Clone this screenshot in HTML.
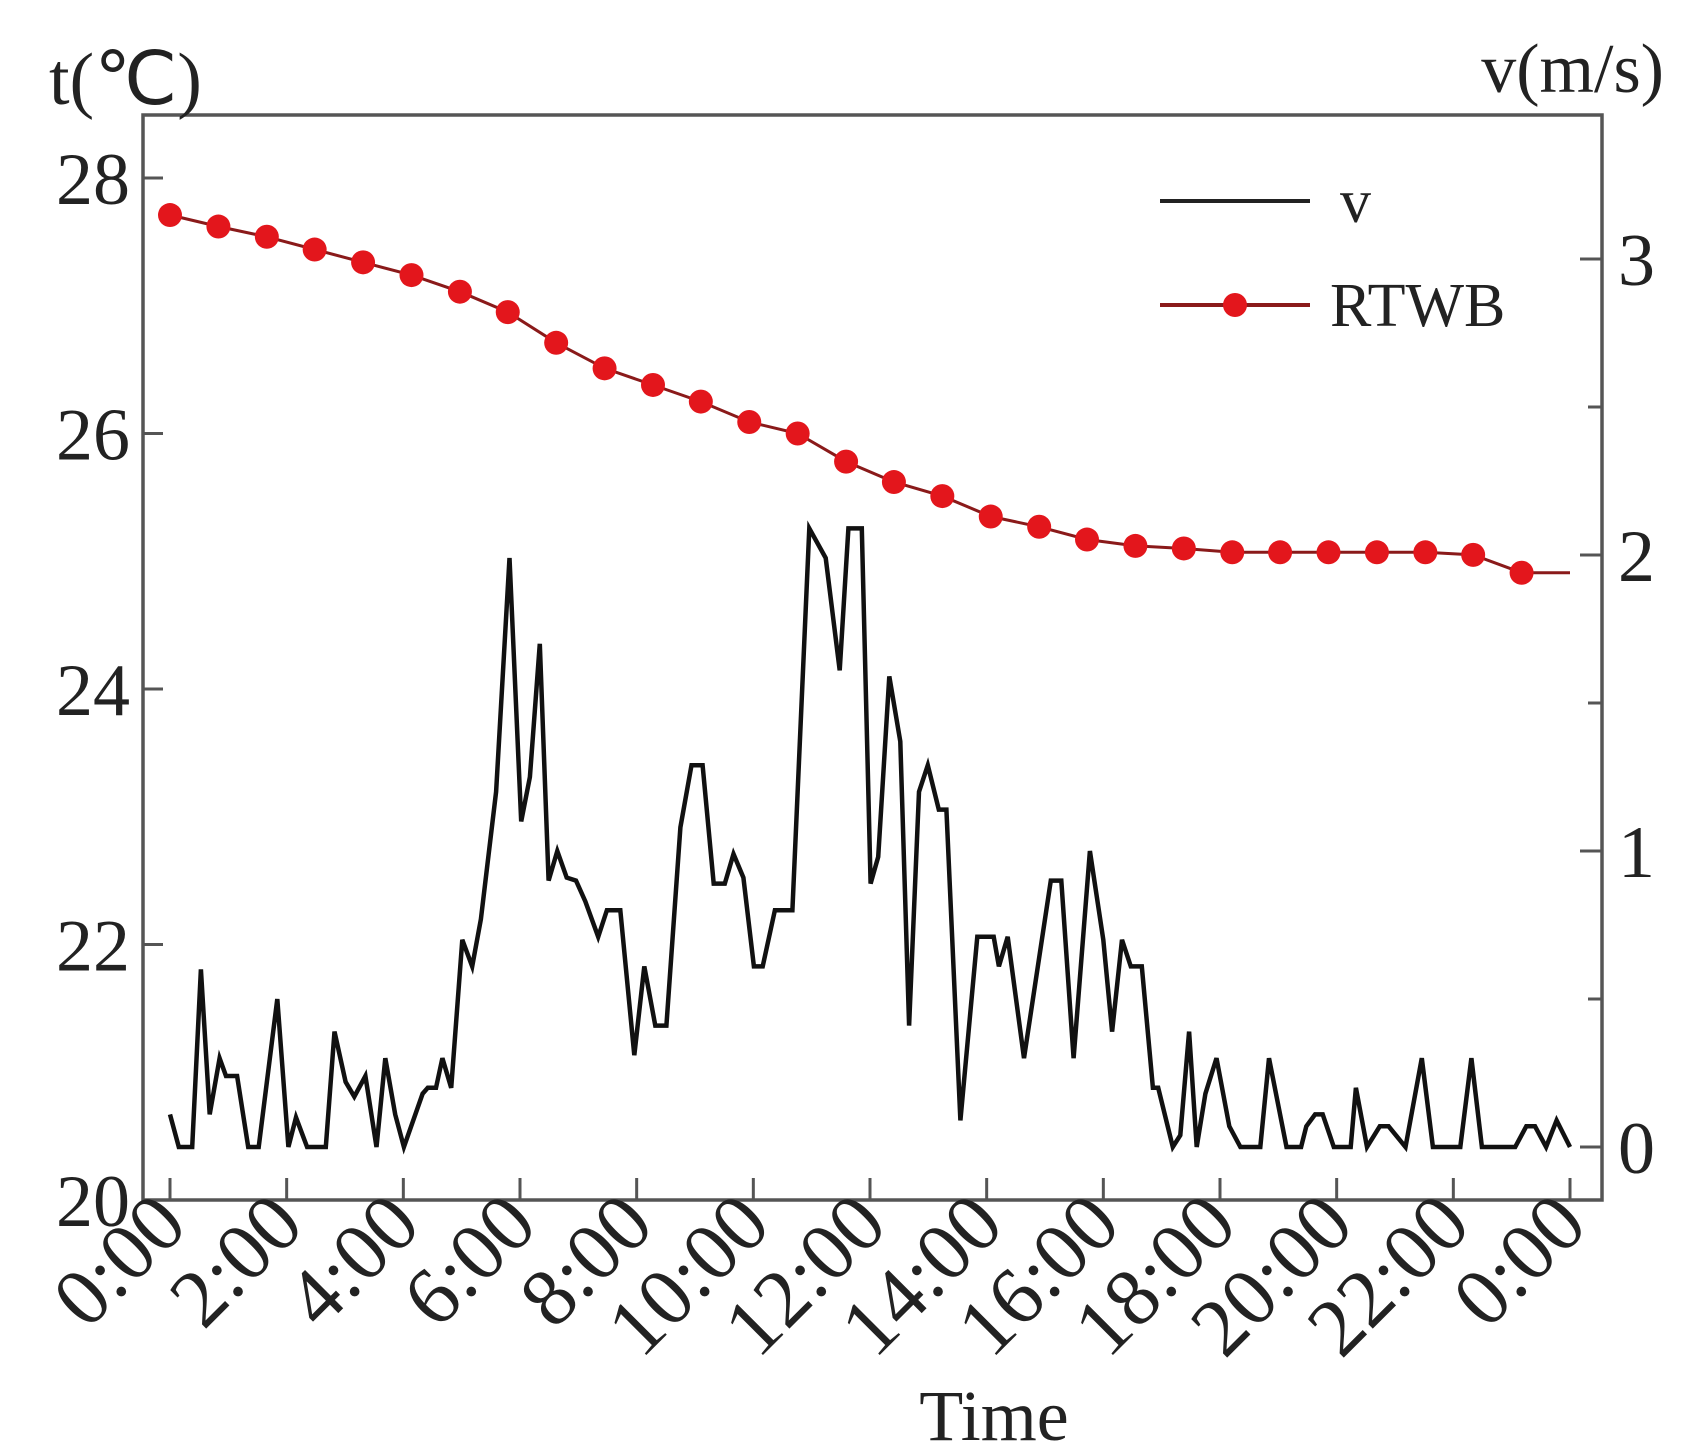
<!DOCTYPE html>
<html><head><meta charset="utf-8"><style>
html,body{margin:0;padding:0;background:#fff;}
svg{display:block;font-family:"Liberation Serif",serif;}
</style></head><body>
<svg id="chart" width="1704" height="1456" viewBox="0 0 1704 1456" xmlns="http://www.w3.org/2000/svg">
<rect x="0" y="0" width="1704" height="1456" fill="#fff"/>
<g id="grid"></g>
<g id="series"></g>
<rect x="143" y="115" width="1459" height="1085" fill="none" stroke="#555" stroke-width="3.5"/>
<text x="49" y="104" font-size="74" fill="#222">t(℃)</text>
<text x="1664" y="92" font-size="70" fill="#222" text-anchor="end">v(m/s)</text>
<text x="994" y="1440" font-size="72" fill="#222" text-anchor="middle">Time</text>
<g>
<line x1="1160" y1="201" x2="1310" y2="201" stroke="#222" stroke-width="4"/>
<text x="1340" y="222" font-size="62" fill="#222">v</text>
<line x1="1160" y1="305" x2="1310" y2="305" stroke="#8a1a1a" stroke-width="4"/>
<circle cx="1235" cy="305" r="12" fill="#e3161c"/>
<text x="1330" y="326" font-size="62" fill="#222">RTWB</text>
</g>
</svg>
<script>
const xTickHours = [0,2,4,6,8,10,12,14,16,18,20,22,24];
const xTickLabels = ["0:00","2:00","4:00","6:00","8:00","10:00","12:00","14:00","16:00","18:00","20:00","22:00","0:00"];
const leftTicks = [20,22,24,26,28];
const rightTicks = [0,1,2,3];
const rightMinor = [0.5,1.5,2.5];
const rtwbHours = [0,0.83,1.66,2.48,3.31,4.14,4.97,5.79,6.62,7.45,8.28,9.10,9.93,10.76,11.59,12.41,13.24,14.07,14.90,15.72,16.55,17.38,18.21,19.03,19.86,20.69,21.52,22.34,23.17,24];
const rtwbTemp = [27.71,27.62,27.54,27.44,27.34,27.24,27.11,26.95,26.71,26.51,26.38,26.25,26.09,26.0,25.78,25.62,25.51,25.35,25.27,25.17,25.12,25.10,25.07,25.07,25.07,25.07,25.07,25.05,24.91,24.91];
const vHours = [0,0.15,0.38,0.53,0.68,0.85,0.96,1.15,1.34,1.52,1.84,2.03,2.16,2.35,2.67,2.82,3.01,3.16,3.35,3.54,3.69,3.86,4.01,4.33,4.42,4.56,4.67,4.82,5.01,5.18,5.33,5.59,5.82,6.02,6.17,6.34,6.49,6.64,6.80,6.96,7.12,7.34,7.49,7.72,7.96,8.13,8.32,8.51,8.75,8.94,9.13,9.32,9.51,9.66,9.83,10.01,10.16,10.37,10.67,10.96,11.24,11.48,11.63,11.86,12.01,12.14,12.33,12.52,12.67,12.84,12.99,13.18,13.31,13.55,13.84,14.12,14.21,14.36,14.64,15.10,15.28,15.49,15.77,16.0,16.15,16.32,16.47,16.66,16.85,16.94,17.19,17.32,17.47,17.60,17.75,17.94,18.16,18.35,18.69,18.84,19.14,19.39,19.48,19.63,19.76,19.95,20.24,20.33,20.52,20.74,20.89,21.18,21.46,21.65,22.12,22.31,22.49,23.06,23.25,23.40,23.59,23.77,24.0];
const vSpeed = [0.11,0,0,0.60,0.11,0.30,0.24,0.24,0,0,0.50,0,0.10,0,0,0.39,0.22,0.17,0.24,0,0.30,0.11,0,0.18,0.20,0.20,0.30,0.20,0.70,0.61,0.77,1.20,1.99,1.10,1.25,1.70,0.90,1.00,0.91,0.90,0.83,0.71,0.80,0.80,0.31,0.61,0.41,0.41,1.08,1.29,1.29,0.89,0.89,0.99,0.91,0.61,0.61,0.80,0.80,2.09,1.99,1.61,2.09,2.09,0.89,0.98,1.59,1.37,0.41,1.20,1.29,1.14,1.14,0.09,0.71,0.71,0.61,0.71,0.30,0.90,0.90,0.30,1.00,0.70,0.39,0.70,0.61,0.61,0.20,0.20,0,0.04,0.39,0,0.18,0.30,0.07,0,0,0.30,0,0,0.07,0.11,0.11,0,0,0.20,0,0.07,0.07,0,0.30,0,0,0.30,0,0,0.07,0.07,0,0.09,0];

const NS = "http://www.w3.org/2000/svg";
const L = 143, R = 1602, T = 115, B = 1200;
const X = h => 170 + h * (1400 / 24);
const YT = t => 1200 - (t - 20) * 127.75;
const YV = v => 1147 - v * 296;
function mk(tag, attrs, parent) {
  const e = document.createElementNS(NS, tag);
  for (const k in attrs) e.setAttribute(k, attrs[k]);
  parent.appendChild(e);
  return e;
}
const svg = document.getElementById("chart");
const grid = document.getElementById("grid");
const series = document.getElementById("series");

xTickHours.forEach((h, i) => {
  const x = X(h);
  const tk = mk("line", {x1: x, y1: B, x2: x, y2: B - 22, stroke: "#555", "stroke-width": 3}, grid);
  
  
  const tx = mk("text", {x: 0, y: 0, "font-size": 82, fill: "#222", "text-anchor": "end", transform: "translate(" + (x + 20) + "," + (B + 28) + ") rotate(-45)"}, svg);
  tx.textContent = xTickLabels[i];
  
  
});
leftTicks.forEach(t => {
  const y = YT(t);
  if (t > 20) {
    const tk = mk("line", {x1: L, y1: y, x2: L + 20, y2: y, stroke: "#555", "stroke-width": 3}, grid);
    
    
  }
  const tx = mk("text", {x: 130, y: y + 26, "font-size": 74, fill: "#222", "text-anchor": "end"}, svg);
  tx.textContent = t;
  
  
});
rightTicks.forEach(v => {
  const y = YV(v);
  const tk = mk("line", {x1: R, y1: y, x2: R - 22, y2: y, stroke: "#555", "stroke-width": 3}, grid);
  
  
  const tx = mk("text", {x: 1618, y: y + 26, "font-size": 74, fill: "#222"}, svg);
  tx.textContent = v;
  
  
});
rightMinor.forEach(v => {
  const y = YV(v);
  const tk = mk("line", {x1: R, y1: y, x2: R - 14, y2: y, stroke: "#555", "stroke-width": 3}, grid);
  
  
});

const vPts = vHours.map((h, i) => X(h).toFixed(1) + "," + YV(vSpeed[i]).toFixed(1)).join(" ");
const vLine = mk("polyline", {points: vPts, fill: "none", stroke: "#111", "stroke-width": 4.5, "stroke-linejoin": "miter"}, series);



const rPts = rtwbHours.map((h, i) => X(h).toFixed(1) + "," + YT(rtwbTemp[i]).toFixed(1)).join(" ");
const rLine = mk("polyline", {points: rPts, fill: "none", stroke: "#8a1a1a", "stroke-width": 3}, series);


rtwbHours.forEach((h, i) => {
  if (i === rtwbHours.length - 1) return;
  const c = mk("circle", {cx: X(h), cy: YT(rtwbTemp[i]), r: 12, fill: "#e3161c"}, series);
  
  
});
</script>
</body></html>
